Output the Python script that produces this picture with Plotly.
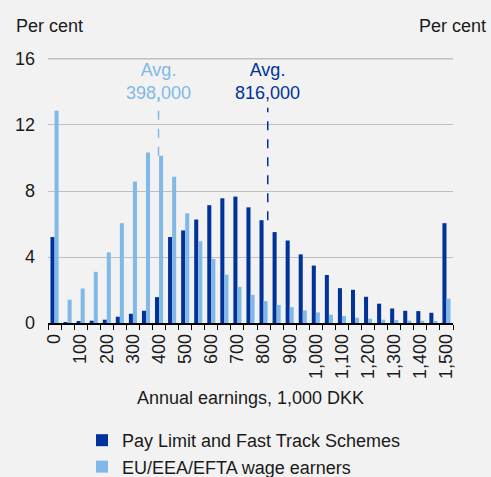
import plotly.graph_objects as go

# Earnings bins (1,000 DKK), one bar group every 50
bins = list(range(0, 1501, 50))

# Share of employees in each earnings bin, per cent
pay_limit = [5.21, 0.04, 0.12, 0.14, 0.20, 0.38, 0.56, 0.74, 1.57, 5.21,
             5.61, 6.27, 7.14, 7.56, 7.66, 7.01, 6.23, 5.51, 5.00, 4.16,
             3.48, 2.91, 2.11, 2.01, 1.59, 1.17, 0.88, 0.74, 0.72, 0.62,
             6.05]
eu_eea_efta = [12.86, 1.41, 2.09, 3.10, 4.28, 6.05, 8.58, 10.33, 10.13, 8.86,
               6.65, 4.96, 3.88, 2.93, 2.19, 1.71, 1.33, 1.09, 0.96, 0.76,
               0.64, 0.50, 0.42, 0.32, 0.26, 0.20, 0.18, 0.14, 0.14, 0.08,
               1.47]

series_names = ["Pay Limit and Fast Track Schemes", "EU/EEA/EFTA wage earners"]

# Averages (1,000 DKK) and the bar height the marker line stops at
avg_values = [398, 816]
avg_line_bottom = [10.13, 6.23]
avg_line_top = [13.65, 13.05]

y_max = 16
tick_vals = list(range(0, 1501, 100))
tick_text = [f"{v:,}" for v in tick_vals]

DARK = "#00339A"
LIGHT = "#80B9E8"
BG = "#F2F2F2"
GRID = "#BFBFBF"
TXT = "#1A1A1A"
FONT = "Liberation Sans, Arial, sans-serif"

W, H = 491, 477
HEADROOM = 5                      # px above the top gridline
ML, MR, MT, MB = 47.5, 38, 59 - HEADROOM, 153.5
PW = W - ML - MR
PH = H - MT - MB
Y_TOP = y_max * PH / (PH - HEADROOM)


def px_to_paper_y(py):
    return (H - MB - py) / PH


def px_to_paper_x(px):
    return (px - ML) / PW


fig = go.Figure()
fig.add_trace(go.Bar(x=bins, y=pay_limit, name=series_names[0],
                     marker=dict(color=DARK, line=dict(width=0))))
fig.add_trace(go.Bar(x=bins, y=eu_eea_efta, name=series_names[1],
                     marker=dict(color=LIGHT, line=dict(width=0))))

# top gridline of the value axis
fig.add_shape(type="line", xref="paper", yref="y", x0=0, x1=1,
              y0=y_max, y1=y_max, line=dict(color=GRID, width=1.2),
              layer="below")

# dashed average markers with their labels
avg_colors = [LIGHT, DARK]
for v, y0, y1, c in zip(avg_values, avg_line_bottom, avg_line_top, avg_colors):
    fig.add_shape(type="line", xref="x", yref="y", x0=v, x1=v, y0=y0, y1=y1,
                  line=dict(color=c, width=1.5, dash="dash"), layer="above")
    fig.add_annotation(x=v, y=px_to_paper_y(82), xref="x", yref="paper",
                       text=f"Avg.<br>{v * 1000:,}",
                       showarrow=False, yanchor="middle", xanchor="center",
                       font=dict(size=18, color=c, family=FONT))

# unit labels above both value axes
fig.add_annotation(x=px_to_paper_x(13), y=px_to_paper_y(26), xref="paper",
                   yref="paper", text="Per cent", showarrow=False,
                   xanchor="left", yanchor="middle",
                   font=dict(size=18, color=TXT, family=FONT))
fig.add_annotation(x=px_to_paper_x(488), y=px_to_paper_y(26), xref="paper",
                   yref="paper", text="Per cent", showarrow=False,
                   xanchor="right", yanchor="middle",
                   font=dict(size=18, color=TXT, family=FONT))

fig.update_layout(
    width=W, height=H,
    margin=dict(l=ML, r=MR, t=MT, b=MB, pad=0, autoexpand=False),
    paper_bgcolor=BG, plot_bgcolor=BG,
    barmode="group", bargap=0.38, bargroupgap=0,
    font=dict(family=FONT, size=18, color=TXT),
    showlegend=True,
    legend=dict(orientation="v", x=82 / W, xanchor="left", xref="container",
                y=1 - 422 / H, yanchor="top", yref="container",
                bgcolor="rgba(0,0,0,0)",
                font=dict(size=18, color=TXT, family=FONT),
                itemsizing="constant", tracegroupgap=0),
    xaxis=dict(
        range=[-25, 1525], tickmode="array", tickvals=tick_vals,
        ticktext=tick_text, tickangle=-90, ticks="", showgrid=False,
        zeroline=False, showline=True, linecolor="#000000", linewidth=1.5,
        ticklabelstandoff=2, automargin=False,
        minor=dict(ticks="outside", tick0=-25, dtick=50, ticklen=5,
                   tickcolor="#000000", tickwidth=1.2, showgrid=False),
        tickfont=dict(size=18, color=TXT, family=FONT),
        title=dict(text="Annual earnings, 1,000 DKK", standoff=13,
                   font=dict(size=18, color=TXT, family=FONT)),
    ),
    yaxis=dict(
        range=[0, Y_TOP], tickmode="linear", tick0=0, dtick=4,
        showgrid=True, gridcolor=GRID, gridwidth=1.2, zeroline=False,
        ticks="", ticklabelstandoff=12, automargin=False,
        tickfont=dict(size=18, color=TXT, family=FONT),
    ),
    yaxis2=dict(
        range=[0, Y_TOP], tickmode="linear", tick0=0, dtick=4,
        overlaying="y", side="right", anchor="x", showgrid=False,
        zeroline=False, ticks="", ticklabelstandoff=14, automargin=False,
        tickfont=dict(size=18, color=TXT, family=FONT),
    ),
)

fig.write_html("out.html")
